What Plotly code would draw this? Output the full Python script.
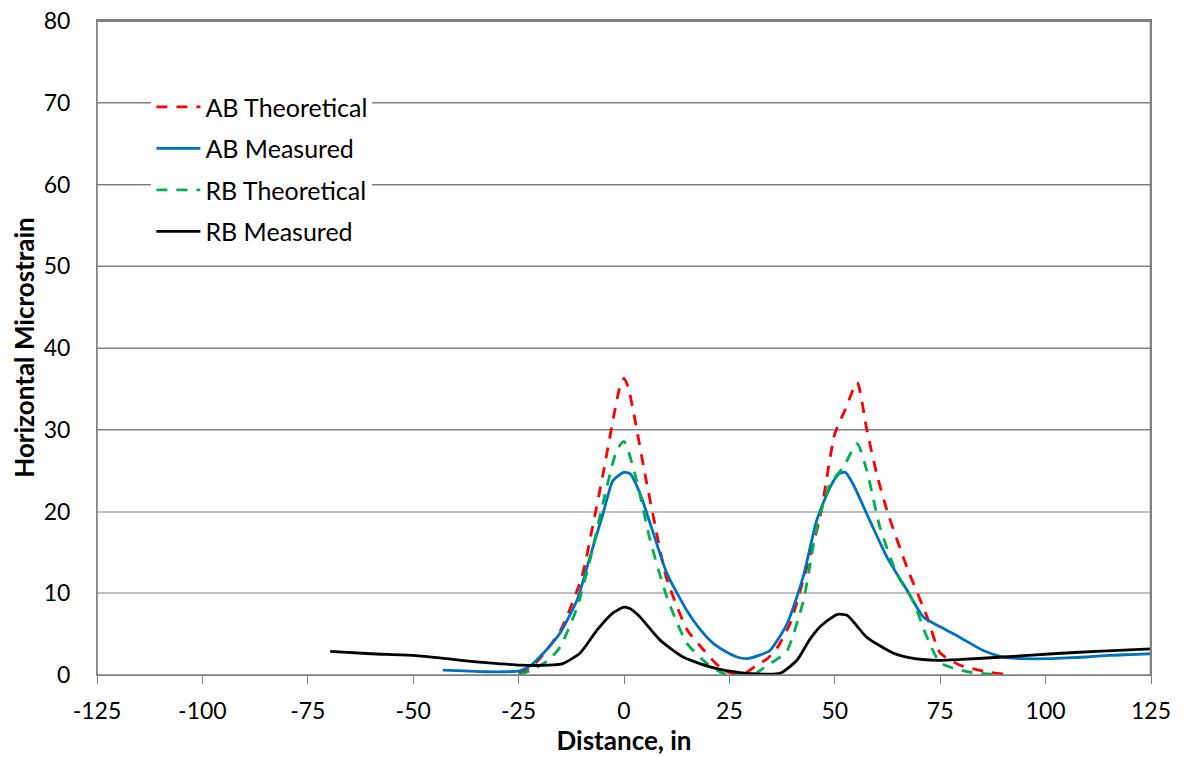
import plotly.graph_objects as go

# AB Theoretical
ab_th_x = [-25, -22, -20, -15, -10, -7.5, -5, -2.5, -1, 0, 1, 2.5, 5, 7.5, 10, 15, 19, 22, 25, 28,
           31.5, 34, 36.3, 39.4, 43, 46.5, 50, 52.5, 55.3, 57.6, 60, 62.4, 67.1, 71.9, 75, 79.7, 86, 92]
ab_th_y = [0.2, 1.0, 2.0, 5.5, 12.0, 18.0, 24.5, 31.5, 35.2, 36.3, 35.2, 31.5, 24.5, 18.0, 12.0, 5.5, 3.0, 1.3, 0.3, 0.0,
           1.2, 2.0, 3.3, 6.3, 12.5, 19.3, 29.5, 32.5, 35.8, 30.0, 24.5, 20.1, 13.2, 7.1, 2.7, 1.2, 0.4, 0.0]

# AB Measured
ab_me_x = [-43, -38, -33, -28, -24.7, -22, -20, -17.5, -15.2, -11.1, -8.1, -5, -2.6, 0, 1.5, 3.8, 7, 10.2,
           14.9, 18, 21.1, 24, 26.8, 29.2, 32, 34.6, 38.7, 42.5, 45.7, 48.9, 51, 52.5, 54.3, 58.3, 62.4,
           67.1, 71, 75, 79.7, 85.2, 89.9, 95, 100.3, 105, 109.8, 115, 120, 125]
ab_me_y = [0.6, 0.5, 0.4, 0.4, 0.5, 1.2, 2.2, 3.6, 5.1, 9.2, 14.4, 19.7, 23.8, 24.8, 24.6, 22.2, 17.3, 12.4,
           7.9, 5.6, 3.9, 2.9, 2.2, 2.0, 2.4, 3.0, 6.3, 12.0, 18.9, 23.0, 24.6, 24.8, 23.4, 18.9, 14.4,
           10.4, 7.1, 5.9, 4.6, 3.0, 2.2, 2.0, 2.0, 2.1, 2.2, 2.4, 2.5, 2.6]

# RB Theoretical
rb_th_x = [-25, -22, -18, -15.2, -11.1, -8.1, -5, -1.7, 0, 3, 6.2, 10.2, 14.9, 19.7, 23.5, 27,
           30.6, 34, 36.5, 38.7, 42.6, 45.7, 48.9, 52, 55.3, 57.6, 60.7, 64.7, 68.5, 71.9, 75, 81.4, 87.6]
rb_th_y = [0.0, 0.6, 1.8, 3.4, 8.3, 14.0, 21.0, 27.5, 28.6, 23.8, 16.5, 9.5, 3.9, 1.4, 0.2, 0.0,
           0.0, 1.2, 2.0, 3.0, 9.2, 18.0, 23.4, 25.4, 28.3, 25.0, 18.1, 12.4, 9.1, 4.6, 1.5, 0.4, 0.1]

# RB Measured
rb_me_x = [-69.7, -60, -50, -42, -35, -30, -24.7, -18, -14.5, -10.4, -6.4, -2.6, 0, 1.5, 3.8, 8.5, 14,
           20.4, 25.9, 29.2, 33, 37, 41, 44, 46.5, 50.5, 52.9, 57.6, 63.8, 68, 74.2, 80, 89.9, 101.7, 112, 125]
rb_me_y = [2.9, 2.6, 2.4, 2.0, 1.6, 1.4, 1.2, 1.2, 1.4, 2.7, 5.5, 7.6, 8.3, 8.1, 7.1, 4.3, 2.2,
           1.0, 0.4, 0.2, 0.1, 0.2, 1.8, 4.3, 5.9, 7.4, 7.3, 4.6, 2.7, 2.1, 1.8, 1.9, 2.2, 2.6, 2.9, 3.2]

x_ticks = [-125, -100, -75, -50, -25, 0, 25, 50, 75, 100, 125]
x_tick_text = ["-125", "-100", "-75", "-50", "-25", "0", "25", "50", "75", "100", "125"]
y_ticks = [0, 10, 20, 30, 40, 50, 60, 70, 80]

FONT = "Lato, 'Open Sans', sans-serif"

fig = go.Figure()
series = [
    ("AB Theoretical", ab_th_x, ab_th_y, "#ff0000", "dash"),
    ("AB Measured", ab_me_x, ab_me_y, "#0070c0", "solid"),
    ("RB Theoretical", rb_th_x, rb_th_y, "#00b050", "dash"),
    ("RB Measured", rb_me_x, rb_me_y, "#000000", "solid"),
]
for i, (name, xs, ys, col, dash) in enumerate(series):
    fig.add_trace(go.Scatter(
        x=xs, y=ys, mode="lines", name=name, legendgroup=f"g{i}",
        line=dict(color=col, width=2.8, dash=("11px,9px" if dash == "dash" else "solid"),
                  shape="spline", smoothing=0.6),
    ))

# invisible helper trace on overlay axis for darker upper gridlines
fig.add_trace(go.Scatter(x=[0], y=[0], yaxis="y2", mode="markers", marker=dict(opacity=0),
                         showlegend=False, hoverinfo="skip"))

fig.update_layout(
    width=1184, height=759,
    margin=dict(l=97, r=33, t=20, b=84),
    paper_bgcolor="white", plot_bgcolor="white",
    font=dict(family=FONT, color="#000000", size=22),
    xaxis=dict(
        range=[-125, 125], tickvals=x_ticks, ticktext=x_tick_text, ticks="outside", ticklen=8,
        tickcolor="#808080", showline=True, linecolor="#808080", linewidth=1, mirror=True,
        showgrid=False, zeroline=False, automargin=False,
        tickfont=dict(size=23, family=FONT), ticklabelstandoff=7,
        title=dict(text="<b>Distance, in</b>", font=dict(size=26, family=FONT), standoff=6),
    ),
    yaxis=dict(
        range=[0, 80.15], tickvals=y_ticks, ticks="", showline=True, linecolor="#808080", linewidth=1,
        mirror=True, showgrid=True, gridcolor="#c0c0c0", gridwidth=1.5, zeroline=False,
        automargin=False,
        tickfont=dict(size=23, family=FONT), ticklabelstandoff=21,
        title=dict(text="<b>Horizontal Microstrain</b>", font=dict(size=26, family=FONT), standoff=1),
    ),
    yaxis2=dict(
        range=[0, 80.15], overlaying="y", tickvals=[30, 40, 50, 60, 70, 80], showticklabels=False,
        showgrid=True, gridcolor="#808080", gridwidth=1.2, zeroline=False, showline=False,
        automargin=False,
    ),
    shapes=[dict(type="rect", xref="paper", yref="paper", x0=0, y0=0, x1=0.9995, y1=0.9995,
                 line=dict(color="#808080", width=1.5), fillcolor="rgba(0,0,0,0)", layer="above")],
    legend=dict(
        x=0.0516, y=0.902, xanchor="left", yanchor="top",
        bgcolor="white", borderwidth=0, font=dict(size=25, family=FONT),
        tracegroupgap=6, itemwidth=44,
    ),
    showlegend=True,
)

fig.write_html("out.html", config={"displayModeBar": False},
               post_script="document.body.style.margin='0px';")
